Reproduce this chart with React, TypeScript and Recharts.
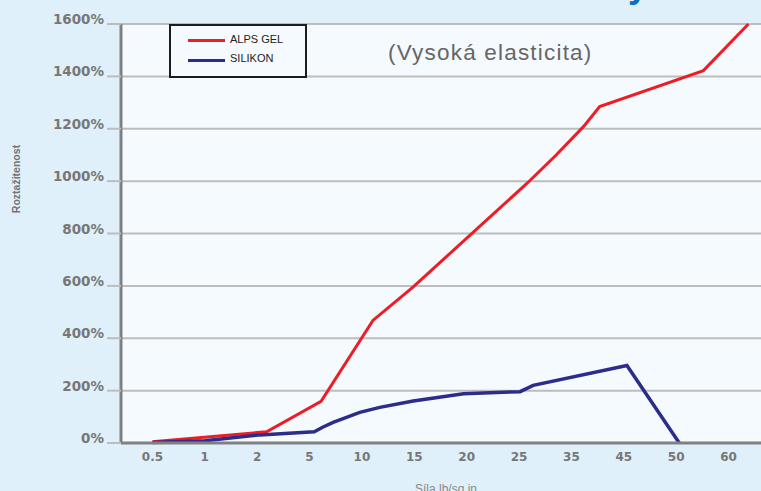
import React from 'react';
import { LineChart, Line, XAxis, YAxis, CartesianGrid, Legend, Customized } from 'recharts';

const categories = ['0.5', '1', '2', '5', '10', '15', '20', '25', '35', '45', '50', '60'];
const categoryIndex = [0, 1, 2, 3, 4, 5, 6, 7, 8, 9, 10, 11];
const yTicks = [0, 200, 400, 600, 800, 1000, 1200, 1400, 1600];

// positions along the category axis (category index) and values in %
const alpsGelPos = [0, 2.18, 3.22, 4.21, 4.98, 6.06, 7.15, 7.7, 8.23, 8.54, 10.52, 11.38];
const alpsGelValues = [5, 43, 159, 468, 596, 793, 991, 1098, 1208, 1285, 1422, 1600];

const silikonPos = [0, 1, 2.05, 3.09, 3.25, 3.45, 3.96, 4.34, 4.98, 5.94, 7.02, 7.27, 9.06, 10.06];
const silikonValues = [2, 9, 31, 43, 60, 79, 117, 136, 160, 188, 196, 220, 296, 0];

const seriesNames = ['ALPS GEL', 'SILIKON'];
const seriesColors = ['#ee1d25', '#2b2c8c'];

const alpsData = alpsGelPos.map((x, i) => ({ x, v: alpsGelValues[i] }));
const silikonData = silikonPos.map((x, i) => ({ x, v: silikonValues[i] }));

const YTick = (props: any) => {
  const { x, y, payload } = props;
  return (
    <text x={x} y={y} textAnchor="end" fill="#777777" fontSize={13.5} fontWeight="bold" fontFamily="DejaVu Sans">
      {payload.value}%
    </text>
  );
};

const XTick = (props: any) => {
  const { x, y, payload } = props;
  return (
    <text x={x} y={y + 18} textAnchor="middle" fill="#777777" fontSize={12} fontWeight="bold" fontFamily="DejaVu Sans">
      {categories[payload.value]}
    </text>
  );
};

const LegendBox = () => (
  <div
    style={{
      boxSizing: 'border-box',
      width: 138,
      height: 54,
      border: '2px solid #1c1c1c',
      background: '#f5fafe',
      position: 'relative',
      fontFamily: '"Liberation Sans", Arial, sans-serif',
    }}
  >
    {seriesNames.map((name, i) => (
      <React.Fragment key={name}>
        <div
          style={{
            position: 'absolute',
            left: 17,
            top: i === 0 ? 13 : 32.5,
            width: 37,
            height: 3,
            background: seriesColors[i],
          }}
        />
        <div
          style={{
            position: 'absolute',
            left: 59,
            top: i === 0 ? 7 : 26,
            fontSize: 11,
            color: '#222',
            lineHeight: '13px',
            whiteSpace: 'nowrap',
          }}
        >
          {name}
        </div>
      </React.Fragment>
    ))}
  </div>
);

const Overlay = () => (
  <g>
    <text x={628} y={-3} fill="#0b6fc1" fontSize={36} fontWeight="bold" fontFamily="Liberation Sans">
      y
    </text>
    <text
      x={388}
      y={60}
      fill="#666666"
      fontSize={22.5}
      letterSpacing={1.2}
      fontFamily="Liberation Sans"
    >
      (Vysoká elasticita)
    </text>
    <text
      x={16}
      y={179}
      transform="rotate(-90 16 179)"
      textAnchor="middle"
      dominantBaseline="central"
      fill="#737373"
      fontSize={10.5}
      fontWeight="bold"
      fontFamily="Liberation Sans"
    >
      Roztažitenost
    </text>
    <text x={415} y={492.5} fill="#888888" fontSize={12} fontFamily="Liberation Sans">
      Síla lb/sq.in
    </text>
  </g>
);

export default function App() {
  return (
    <div
      style={{
        position: 'absolute',
        left: 0,
        top: 0,
        width: 761,
        height: 491,
        overflow: 'hidden',
        background: '#dff0fa',
      }}
    >
      <LineChart width={761} height={491} margin={{ top: 24, right: 0, bottom: 0, left: 0 }}>
        <CartesianGrid horizontal vertical={false} stroke="#bdbdbd" strokeWidth={2} fill="#f5fafe" />
        <XAxis
          type="number"
          dataKey="x"
          domain={[-0.6, 11.62]}
          allowDataOverflow
          ticks={categoryIndex}
          interval={0}
          tick={<XTick />}
          tickLine={false}
          tickSize={0}
          tickMargin={0}
          height={48}
          axisLine={{ stroke: '#808080', strokeWidth: 3 }}
        />
        <YAxis
          type="number"
          domain={[0, 1600]}
          ticks={yTicks}
          interval={0}
          width={121}
          tick={<YTick />}
          tickSize={14}
          tickMargin={3}
          tickLine={{ stroke: '#bdbdbd', strokeWidth: 2 }}
          axisLine={{ stroke: '#808080', strokeWidth: 3 }}
        />
        <Legend
          layout="horizontal"
          verticalAlign="middle"
          align="center"
          content={<LegendBox />}
          wrapperStyle={{ position: 'absolute', left: 169, top: 24, width: 138, height: 54 }}
        />
        <Line
          data={alpsData}
          dataKey="v"
          name={seriesNames[0]}
          type="linear"
          stroke={seriesColors[0]}
          strokeWidth={3}
          dot={false}
          activeDot={false}
          isAnimationActive={false}
        />
        <Line
          data={silikonData}
          dataKey="v"
          name={seriesNames[1]}
          type="linear"
          stroke={seriesColors[1]}
          strokeWidth={3.5}
          dot={false}
          activeDot={false}
          isAnimationActive={false}
        />
        <Customized component={<Overlay />} />
      </LineChart>
    </div>
  );
}
